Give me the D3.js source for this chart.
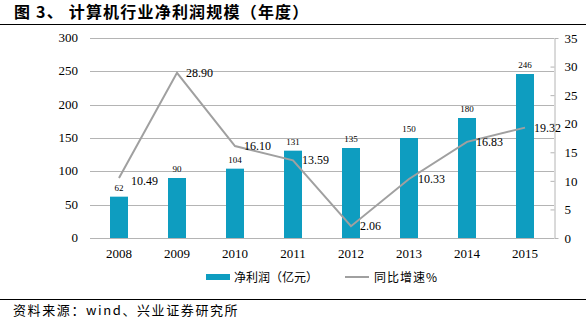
<!DOCTYPE html>
<html>
<head>
<meta charset="utf-8">
<script src="https://cdn.jsdelivr.net/npm/d3@7"></script>
<style>
  body { margin: 0; background: #fff; }
  svg { display: block; }
</style>
</head>
<body>
<svg id="chart" width="586" height="322"></svg>
<script>
// data
let years = ["2008", "2009", "2010", "2011", "2012", "2013", "2014", "2015"];
let profit = [62, 90, 104, 131, 135, 150, 180, 246];
let growth = [10.49, 28.90, 16.10, 13.59, 2.06, 10.33, 16.83, 19.32];
let leftTicks = [0, 50, 100, 150, 200, 250, 300];
let rightTicks = [0, 5, 10, 15, 20, 25, 30, 35];

let svg = d3.select("#chart");
let serif = "'Liberation Serif', 'Times New Roman', serif";
let cjk = "'Noto Sans CJK SC', sans-serif";

let plotL = 90, plotR = 554, plotT = 38, plotB = 238;

let x = d3.scaleBand().domain(years).range([plotL, plotR]);
let yL = d3.scaleLinear().domain([0, 300]).range([plotB, plotT]);
let yR = d3.scaleLinear().domain([0, 35]).range([plotB, plotT]);

// title
svg.append("text")
   .attr("x", 14).attr("y", 18)
   .text("图 3、 计算机行业净利润规模（年度）")
   .style("font-family", cjk)
   .style("font-weight", "bold")
   .style("font-size", "16px")
   .style("letter-spacing", "1.2px");
svg.append("line")
   .attr("x1", 0).attr("x2", 586).attr("y1", 24.5).attr("y2", 24.5)
   .attr("stroke", "#000").attr("stroke-width", 1);

// gridlines
svg.append("g").selectAll("line")
   .data(leftTicks)
   .enter().append("line")
   .attr("x1", plotL).attr("x2", plotR)
   .attr("y1", d => Math.round(yL(d)) + 0.5)
   .attr("y2", d => Math.round(yL(d)) + 0.5)
   .attr("stroke", "#b4b4b4");

// left axis labels
svg.append("g").selectAll("text")
   .data(leftTicks)
   .enter().append("text")
   .attr("x", 78).attr("y", d => yL(d) + 4)
   .attr("text-anchor", "end")
   .text(d => d)
   .style("font-family", serif).style("font-size", "13px");

// right axis
let rAxis = d3.axisRight(yR).tickValues(rightTicks).tickSize(4).tickPadding(6);
let rg = svg.append("g")
   .attr("transform", `translate(${plotR + 0.5},0)`)
   .call(rAxis);
rg.select(".domain").attr("stroke", "#b4b4b4");
rg.selectAll(".tick line").attr("stroke", "#b4b4b4").attr("x2", -4);
rg.selectAll(".tick text")
  .style("font-family", serif).style("font-size", "13px").attr("fill", "#000");

// x labels
svg.append("g").selectAll("text")
   .data(years)
   .enter().append("text")
   .attr("x", d => x(d) + x.bandwidth() / 2)
   .attr("y", 258)
   .attr("text-anchor", "middle")
   .text(d => d)
   .style("font-family", serif).style("font-size", "13px");

// bars
let barW = 18;
svg.append("g").selectAll("rect")
   .data(profit)
   .enter().append("rect")
   .attr("x", (d, i) => x(years[i]) + x.bandwidth() / 2 - barW / 2)
   .attr("y", d => yL(d))
   .attr("width", barW)
   .attr("height", d => plotB - yL(d))
   .attr("fill", "#0e9dc0");

svg.append("g").selectAll("text")
   .data(profit)
   .enter().append("text")
   .attr("x", (d, i) => x(years[i]) + x.bandwidth() / 2)
   .attr("y", d => yL(d) - 6)
   .attr("text-anchor", "middle")
   .text(d => d)
   .style("font-family", serif).style("font-size", "9px");

// growth line
let line = d3.line()
   .x((d, i) => x(years[i]) + x.bandwidth() / 2)
   .y(d => yR(d));
svg.append("path")
   .datum(growth)
   .attr("d", line)
   .attr("fill", "none")
   .attr("stroke", "#a0a0a0")
   .attr("stroke-width", 2);

svg.append("g").selectAll("text")
   .data(growth)
   .enter().append("text")
   .attr("x", (d, i) => x(years[i]) + x.bandwidth() / 2 + (i == 0 ? 12 : 9))
   .attr("y", (d, i) => yR(d) + (i == 0 ? 7 : 4))
   .text(d => d.toFixed(2))
   .style("font-family", serif).style("font-size", "12px");

// legend
let lg = svg.append("g");
lg.append("rect").attr("x", 206).attr("y", 274).attr("width", 24).attr("height", 6).attr("fill", "#0e9dc0");
lg.append("text").attr("x", 234).attr("y", 282).text("净利润（亿元）")
  .style("font-family", cjk).style("font-size", "12px");
lg.append("line").attr("x1", 345).attr("x2", 369).attr("y1", 277).attr("y2", 277)
  .attr("stroke", "#a0a0a0").attr("stroke-width", 2);
lg.append("text").attr("x", 374).attr("y", 282).text("同比增速%")
  .style("font-family", cjk).style("font-size", "12px").style("letter-spacing", "1px");

// footer
svg.append("line")
   .attr("x1", 0).attr("x2", 586).attr("y1", 299.5).attr("y2", 299.5)
   .attr("stroke", "#000").attr("stroke-width", 1);
svg.append("text")
   .attr("x", 13).attr("y", 315)
   .text("资料来源：wind、兴业证券研究所")
   .style("font-family", cjk).style("font-size", "13px")
   .style("letter-spacing", "1.6px");
</script>
</body>
</html>
